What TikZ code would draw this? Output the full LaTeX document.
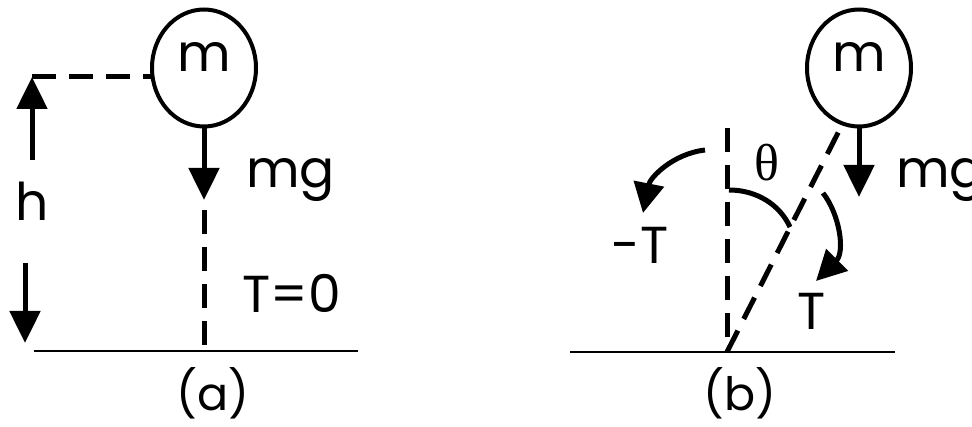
\documentclass[tikz,border=0pt]{standalone}
\usepackage{fontspec}
\setmainfont{Poppins}
\newfontfamily\grk{Liberation Serif}
\usetikzlibrary{arrows.meta,shapes.geometric}
\tikzset{
	mass/.style={draw,ellipse,line width=4pt,inner sep=0,outer sep=0,minimum width=104pt,minimum height=117pt,text depth=22pt},
	force/.style={line width=5pt,-{Triangle[length=32pt,width=30pt]}},
	turn/.style={line width=5pt,-{Triangle[length=30pt,width=30pt]}},
	rope/.style={line width=5pt,dash pattern=on 24pt off 13pt},
	ground/.style={line width=2pt},
	lbl/.style={inner sep=0,font=\fontsize{52}{60}\selectfont},
	partlbl/.style={inner sep=0,font=\fontsize{46}{52}\selectfont}
}
\begin{document}
\begin{tikzpicture}[x=1pt,y=-1pt]
	\useasboundingbox (0,0) rectangle (972,427);
	\node[mass,lbl] (ma) at (204,68) {m};
	\coordinate (ha) at (32,77);
	\coordinate (hb) at (32,160);
	\coordinate (hc) at (25,263);
	\coordinate (hd) at (25,343);
	\coordinate (fa) at (204,200);
	\coordinate (ra) at (204,210);
	\coordinate (pa) at (204,351);
	\coordinate (ga) at (34,351);
	\coordinate (gb) at (358,351);
	\draw[rope] (ha) -- (ma.west |- ha);
	\draw[force] (hb) -- (ha);
	\draw[force] (hc) -- (hd);
	\draw[force] (ma.south) -- (fa);
	\draw[rope] (ra) -- (pa);
	\draw[ground] (ga) -- (gb);
	\node[lbl] (h) at (32,201) {h};
	\node[lbl,anchor=west] (mga) at (246,180) {mg};
	\node[lbl] (t0) at (292,293) {T=0};
	\node[partlbl] (a) at (213,393) {(a)};
	\node[mass,lbl] (mb) at (859,68) {m};
	\coordinate (pb) at (727,352);
	\coordinate (vb) at (727,128);
	\coordinate (sb) at (842,125);
	\coordinate (fb) at (859,197);
	\coordinate (gc) at (570,352);
	\coordinate (gd) at (895,352);
	\coordinate (aa) at (729,190);
	\coordinate (ab) at (790,227);
	\coordinate (na) at (705,150);
	\coordinate (nb) at (643,213);
	\coordinate (ta) at (823,193);
	\coordinate (tb) at (816,281);
	\draw[ground] (gc) -- (gd);
	\draw[rope] (vb) -- (pb);
	\draw[rope] (pb) -- (sb);
	\draw[force] (mb.south) -- (fb);
	\draw[line width=5pt] (aa) .. controls (757,190) and (780,205) .. (ab);
	\draw[turn] (na) .. controls (672,154) and (650,178) .. (nb);
	\draw[turn] (ta) .. controls (840,215) and (845,252) .. (tb);
	\node[lbl] (th) at (767,163) {\grk θ};
	\node[lbl,anchor=west] (mgb) at (896,180) {mg};
	\node[lbl] (nt) at (640,245) {-T};
	\node[lbl] (pt) at (812,311) {T};
	\node[partlbl] (b) at (740,393) {(b)};
\end{tikzpicture}
\end{document}
